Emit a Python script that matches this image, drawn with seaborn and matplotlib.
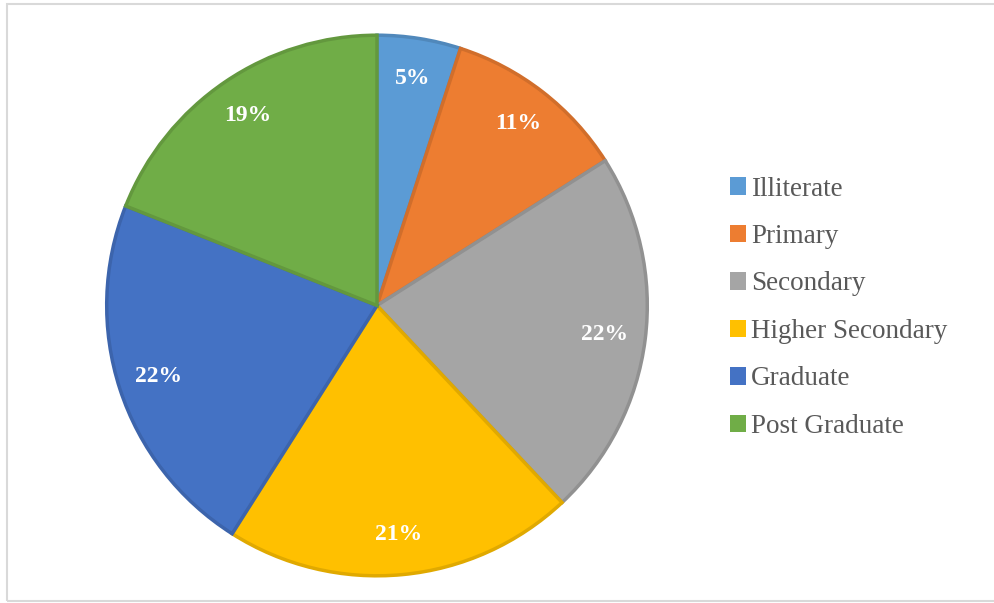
import matplotlib
matplotlib.use("Agg")
import matplotlib.pyplot as plt
import matplotlib.colors as mcolors
from matplotlib.patches import Rectangle
import seaborn as sns

categories = ["Illiterate", "Primary", "Secondary", "Higher Secondary", "Graduate", "Post Graduate"]
shares = [5, 11, 22, 21, 22, 19]
colors = ["#5B9BD5", "#ED7D31", "#A5A5A5", "#FFC000", "#4472C4", "#70AD47"]

sns.set_theme(style="white")
plt.rcParams["font.family"] = ["Liberation Serif", "DejaVu Serif"]

W, H, DPI = 995, 603, 100
fig = plt.figure(figsize=(W / DPI, H / DPI), dpi=DPI)
fig.patch.set_facecolor("white")

# chart area border
fig.add_artist(Rectangle((7 / W, 2 / H), (W + 20) / W, (H - 6) / H,
                         transform=fig.transFigure, fill=False,
                         edgecolor="#D9D9D9", linewidth=1.5))

cx, cy, r = 377, 305.5, 273
ax = fig.add_axes([(cx - r) / W, (H - cy - r) / H, 2 * r / W, 2 * r / H])

edge_cols = [tuple(c * 0.88 for c in mcolors.to_rgb(col)) for col in colors]
wedges, _, autotexts = ax.pie(
    shares, colors=colors, startangle=90, counterclock=False,
    autopct=lambda p: f"{p:.0f}%", pctdistance=0.85, radius=1.0,
    wedgeprops=dict(linewidth=2.5),
    textprops=dict(color="white", fontsize=17, fontweight="bold"),
)
for w, ec in zip(wedges, edge_cols):
    w.set_edgecolor(ec)
ax.set_xlim(-1.01, 1.01)
ax.set_ylim(-1.01, 1.01)
ax.set_aspect("equal")
ax.axis("off")

leg = fig.legend(wedges, categories, loc="upper left",
                 bbox_to_anchor=(716 / W, 1 - 163 / H),
                 frameon=False, fontsize=19.5, labelcolor="#595959",
                 handlelength=0.6, handleheight=0.6, handletextpad=0.2,
                 labelspacing=0.83, borderpad=0)
for h in leg.legend_handles:
    h.set_linewidth(0)

fig.savefig("out.png", dpi=DPI)
